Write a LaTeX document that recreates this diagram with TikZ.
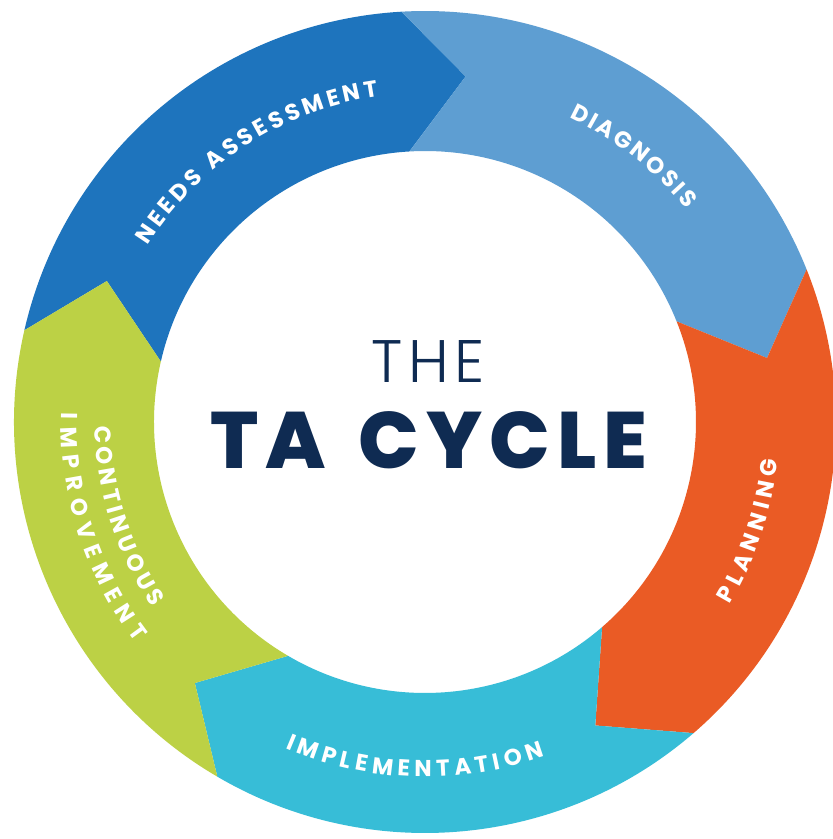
\documentclass[tikz,border=0pt]{standalone}
\usepackage{fontspec}
\setmainfont{Poppins}
\newfontfamily\thinfont[LetterSpace=9]{Poppins Light}
\newfontfamily\heavyfont[LetterSpace=9]{Poppins ExtraBold}
\usetikzlibrary{decorations.text}
\definecolor{cneeds}{HTML}{1E74BD}
\definecolor{cdiag}{HTML}{5E9ED2}
\definecolor{cplan}{HTML}{EA5B25}
\definecolor{cimpl}{HTML}{37BDD7}
\definecolor{ccont}{HTML}{BCD145}
\definecolor{cnavy}{HTML}{0F2B52}
\newcommand\Ro{411}
\newcommand\Ri{271}
\newcommand\Rm{348}
% #1 colour, #2 start boundary, #3 end boundary, #4 tail notch angle, #5 head tip angle
\newcommand\arrowseg[5]{%
  \fill[#1] (#2:\Ro) arc[start angle=#2,end angle=#3,radius=\Ro]
    -- (#5:\Rm) -- (#3:\Ri) arc[start angle=#3,end angle=#2,radius=\Ri]
    -- (#4:\Rm) -- cycle;}
\tikzset{
  arclabel/.style={decorate, decoration={text along path, text align=fit to path,
    text color=white, text={|\bfseries\fontsize{23}{23}\selectfont|#1}}},
  centretext/.style={text=cnavy, inner sep=0pt, anchor=base}
}
\begin{document}
\begin{tikzpicture}[x=1pt,y=1pt]
\useasboundingbox (-425,-417) rectangle (408,422);
\fill[white] (-425,-417) rectangle (408,422);
% segments (clockwise order)
\arrowseg{cneeds}{167.1}{93.3}{156.1}{83.3}
\arrowseg{cdiag}{93.3}{21.8}{83.3}{10.6}
\arrowseg{cplan}{21.8}{-49.2}{10.6}{-60.7}
\arrowseg{cimpl}{-49.2}{-120.35}{-60.7}{-131.4}
\arrowseg{ccont}{-120.35}{-192.9}{-131.4}{-203.9}
% labels
\path[arclabel={NEEDS ASSESSMENT}] (147.6:329) arc[start angle=147.6,end angle=98.1,radius=329];
\path[arclabel={DIAGNOSIS}] (64.7:337) arc[start angle=64.7,end angle=39.1,radius=337];
\path[arclabel={PLANNING}] (-30.9:355) arc[start angle=-30.9,end angle=-6.2,radius=355];
\path[arclabel={IMPLEMENTATION}] (-113.2:355) arc[start angle=-113.2,end angle=-70.3,radius=355];
\path[arclabel={CONTINUOUS}] (180.7:330) arc[start angle=180.7,end angle=214.2,radius=330];
\path[arclabel={IMPROVEMENT}] (178.5:364) arc[start angle=178.5,end angle=217.3,radius=364];
% centre title
\node[centretext, font=\thinfont\fontsize{60}{60}\selectfont] (the) at (3,40) {THE};
\node[centretext, font=\heavyfont\fontsize{80}{80}\selectfont] (ta) at (4,-46) {TA \rule{10pt}{0pt}CYCLE};
\end{tikzpicture}
\end{document}
